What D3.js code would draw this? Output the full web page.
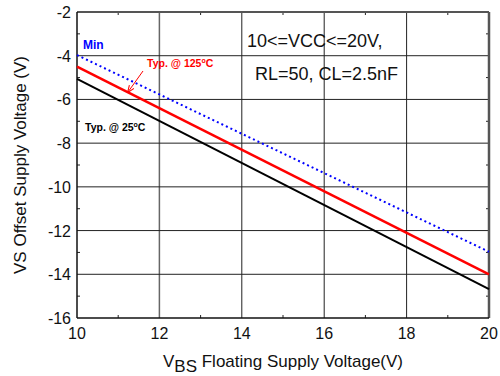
<!DOCTYPE html>
<html>
<head>
  <meta http-equiv="Content-Type" content="text/html; charset=UTF-8">
  <style>
    body { margin: 0; background: #fff; }
    svg { font-family: "Liberation Sans", Arial, sans-serif; }
    .grid line { stroke: #222; stroke-width: 1px; }
    .frame { fill: none; stroke: #555; stroke-width: 2px; }
    .tick-label { font-size: 16px; fill: #111; }
    .line25, .line125, .lineMin { fill: none; }
    .line25 { stroke: #000; stroke-width: 2px; }
    .line125 { stroke: #ff0000; stroke-width: 2.5px; }
    .lineMin { stroke: #0000ff; stroke-width: 2px; stroke-dasharray: 2,3; }
  </style>
</head>
<body>
  <svg width="500" height="376"></svg>
  <script src="https://cdn.jsdelivr.net/npm/d3@7"></script>
  <script>
    // data
    var vbs = [10, 20];
    var typ25 = [-5.06, -14.68];
    var typ125 = [-4.5, -14.0];
    var minLine = [-3.97, -12.97];
    var xTicks = [10, 12, 14, 16, 18, 20];
    var yTicks = [-2, -4, -6, -8, -10, -12, -14, -16];
    var xMinor = [11, 13, 15, 17, 19];
    var yMinor = [-3, -5, -7, -9, -11, -13, -15];

    var svg = d3.select("svg"),
        margin = {top: 12, right: 11, bottom: 58, left: 77},
        width = 500 - margin.left - margin.right,
        height = 376 - margin.top - margin.bottom;

    var x = d3.scaleLinear().domain([10, 20]).range([0, width]),
        y = d3.scaleLinear().domain([-16, -2]).range([height, 0]);

    var g = svg.append("g")
        .attr("transform", "translate(" + margin.left + "," + margin.top + ")");

    // grid
    var grid = g.append("g").attr("class", "grid");
    grid.selectAll(".vg")
      .data(xTicks.slice(1, -1))
      .enter().append("line")
        .attr("x1", function(d) { return x(d); })
        .attr("x2", function(d) { return x(d); })
        .attr("y1", 0)
        .attr("y2", height)
        .style("stroke", function(d) { return d == 12 ? "#666" : "#222"; })
        .style("stroke-width", function(d) { return d == 12 ? 1.5 : 1; });
    grid.selectAll(".hg")
      .data(yTicks.slice(1, -1))
      .enter().append("line")
        .attr("x1", 0)
        .attr("x2", width)
        .attr("y1", function(d) { return y(d); })
        .attr("y2", function(d) { return y(d); });

    // minor ticks on all four sides, pointing inward
    var minor = g.append("g").style("stroke", "#222").style("stroke-width", 1);
    xMinor.forEach(function(v) {
      minor.append("line").attr("x1", x(v)).attr("x2", x(v)).attr("y1", height).attr("y2", height - 3);
      minor.append("line").attr("x1", x(v)).attr("x2", x(v)).attr("y1", 0).attr("y2", 3);
    });
    yMinor.forEach(function(v) {
      minor.append("line").attr("x1", 0).attr("x2", 3).attr("y1", y(v)).attr("y2", y(v));
      minor.append("line").attr("x1", width).attr("x2", width - 3).attr("y1", y(v)).attr("y2", y(v));
    });

    // frame
    g.append("line").attr("x1", 0).attr("x2", width).attr("y1", 0).attr("y2", 0)
        .style("stroke", "#555").style("stroke-width", 2);
    g.append("line").attr("x1", width).attr("x2", width).attr("y1", 0).attr("y2", height)
        .style("stroke", "#555").style("stroke-width", 2.5);
    g.append("line").attr("x1", 0).attr("x2", 0).attr("y1", 0).attr("y2", height)
        .style("stroke", "#111").style("stroke-width", 1.5);
    g.append("line").attr("x1", 0).attr("x2", width).attr("y1", height).attr("y2", height)
        .style("stroke", "#111").style("stroke-width", 1.5);

    // tick labels
    g.selectAll(".xl")
      .data(xTicks)
      .enter().append("text")
        .attr("class", "tick-label")
        .attr("x", function(d) { return x(d); })
        .attr("y", height + 21)
        .attr("text-anchor", "middle")
        .text(function(d) { return d; });
    g.selectAll(".yl")
      .data(yTicks)
      .enter().append("text")
        .attr("class", "tick-label")
        .attr("x", -6)
        .attr("y", function(d) { return y(d) + 6; })
        .attr("text-anchor", "end")
        .text(function(d) { return d; });

    // series
    var line = function(vals) {
      return d3.line()
        .x(function(d, i) { return x(vbs[i]); })
        .y(function(d) { return y(d); })(vals);
    };
    g.append("path").attr("class", "line25").attr("d", line(typ25));
    g.append("path").attr("class", "line125").attr("d", line(typ125));
    g.append("path").attr("class", "lineMin").attr("d", line(minLine));

    // annotations
    g.append("text").attr("x", 6).attr("y", 37)
        .style("font-size", "12px").style("font-weight", "bold").style("fill", "#0000ff")
        .text("Min");

    var t125 = g.append("text").attr("x", 70).attr("y", 55)
        .style("font-size", "10.5px").style("font-weight", "bold").style("fill", "#ff0000");
    t125.append("tspan").text("Typ. @ 125");
    t125.append("tspan").attr("dy", -4).style("font-size", "7px").text("o");
    t125.append("tspan").attr("dy", 4).text("C");

    var t25 = g.append("text").attr("x", 8).attr("y", 119)
        .style("font-size", "10.5px").style("font-weight", "bold").style("fill", "#000");
    t25.append("tspan").text("Typ. @ 25");
    t25.append("tspan").attr("dy", -4).style("font-size", "7px").text("o");
    t25.append("tspan").attr("dy", 4).text("C");

    svg.append("defs").append("marker")
        .attr("id", "arr")
        .attr("viewBox", "0 0 10 10")
        .attr("refX", 9).attr("refY", 5)
        .attr("markerWidth", 7).attr("markerHeight", 7)
        .attr("orient", "auto")
      .append("path")
        .attr("d", "M0,1 L10,5 L0,9")
        .style("fill", "none").style("stroke", "#ff0000").style("stroke-width", 1.5);
    g.append("line")
        .attr("x1", 66).attr("y1", 59)
        .attr("x2", 51).attr("y2", 80)
        .style("stroke", "#ff0000").style("stroke-width", 1)
        .attr("marker-end", "url(#arr)");

    g.append("text").attr("x", 170).attr("y", 35)
        .style("font-size", "18px").style("fill", "#111")
        .text("10<=VCC<=20V,");
    g.append("text").attr("x", 178).attr("y", 68)
        .style("font-size", "18px").style("fill", "#111")
        .text("RL=50, CL=2.5nF");

    // axis titles
    var xt = svg.append("text")
        .attr("x", margin.left + width / 2)
        .attr("y", 367)
        .attr("text-anchor", "middle")
        .style("font-size", "17px").style("fill", "#111");
    xt.append("tspan").text("V");
    xt.append("tspan").attr("dy", 5).text("BS");
    xt.append("tspan").attr("dy", -5).text(" Floating Supply Voltage(V)");

    svg.append("text")
        .attr("transform", "translate(26," + (margin.top + height / 2) + ") rotate(-90)")
        .attr("text-anchor", "middle")
        .style("font-size", "17px").style("fill", "#111")
        .text("VS Offset Supply Voltage (V)");
  </script>
</body>
</html>
